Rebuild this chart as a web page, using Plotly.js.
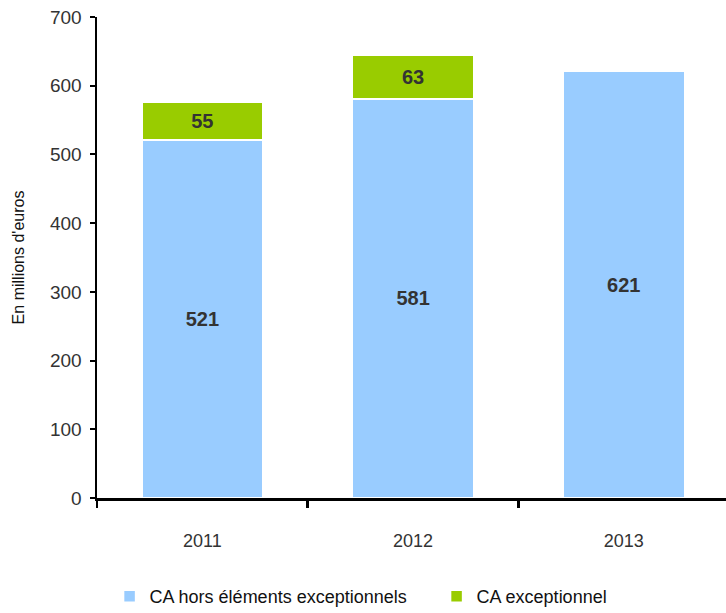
<!DOCTYPE html>
<html><head><meta charset="utf-8">
<script src="https://cdn.plot.ly/plotly-3.0.1.min.js"></script>
<style>body{margin:0;background:#fff}#c{width:726px;height:613px}</style>
</head><body><div id="c"></div>
<script>
const years = ['2011', '2012', '2013'];
const caHors = [521, 581, 621];
const caExcep = [55, 63, null];
const seriesNames = ['CA hors éléments exceptionnels', 'CA exceptionnel'];
const yTicks = [0, 100, 200, 300, 400, 500, 600, 700];

const FONT = 'Liberation Sans, Arial, sans-serif';
const traces = [
  {type: 'bar', name: seriesNames[0], x: years, y: caHors, legendwidth: 282,
   marker: {color: '#99ccff', line: {color: '#ffffff', width: 1.5}},
   width: 0.575, text: caHors.map(String), textposition: 'inside', insidetextanchor: 'middle',
   textfont: {family: FONT, size: 20, color: '#333333', weight: 'bold'}, hoverinfo: 'none'},
  {type: 'bar', name: seriesNames[1], x: years, y: caExcep,
   marker: {color: '#99cc00', line: {color: '#ffffff', width: 1.5}},
   width: 0.575, text: caExcep.map(v => v == null ? '' : String(v)), textposition: 'inside', insidetextanchor: 'middle',
   textfont: {family: FONT, size: 20, color: '#333333', weight: 'bold'}, hoverinfo: 'none'}
];
const layout = {
  width: 726, height: 613, barmode: 'stack',
  margin: {l: 97, r: 0, t: 17, b: 115, autoexpand: false},
  paper_bgcolor: '#fff', plot_bgcolor: '#fff',
  font: {family: FONT, color: '#333333', size: 14},
  showlegend: true,
  legend: {orientation: 'h', x: 0.02, xanchor: 'left', y: -0.205, yanchor: 'middle',
           font: {family: FONT, size: 18, color: '#111'}, itemwidth: 30, traceorder: 'normal'},
  xaxis: {type: 'category', range: [-0.5, 2.485], showline: true, linecolor: '#000', linewidth: 2.5,
          ticks: 'outside', tickson: 'boundaries', ticklen: 7, tickwidth: 2.5, tickcolor: '#000',
          showgrid: false, zeroline: false, tickfont: {size: 18, color: '#333'}, ticklabelstandoff: 25,
          automargin: false},
  yaxis: {range: [0, 700], tickvals: yTicks, showline: true, linecolor: '#000', linewidth: 2.5,
          ticks: 'outside', ticklen: 5, tickwidth: 2, tickcolor: '#000', showgrid: false, zeroline: false,
          tickfont: {size: 19, color: '#333'}, automargin: false, ticklabelstandoff: 4,
          title: {text: "En millions d'euros", font: {size: 16, color: '#111'}, standoff: 22}}
};
Plotly.newPlot('c', traces, layout, {displayModeBar: false, staticPlot: true});
</script></body></html>
